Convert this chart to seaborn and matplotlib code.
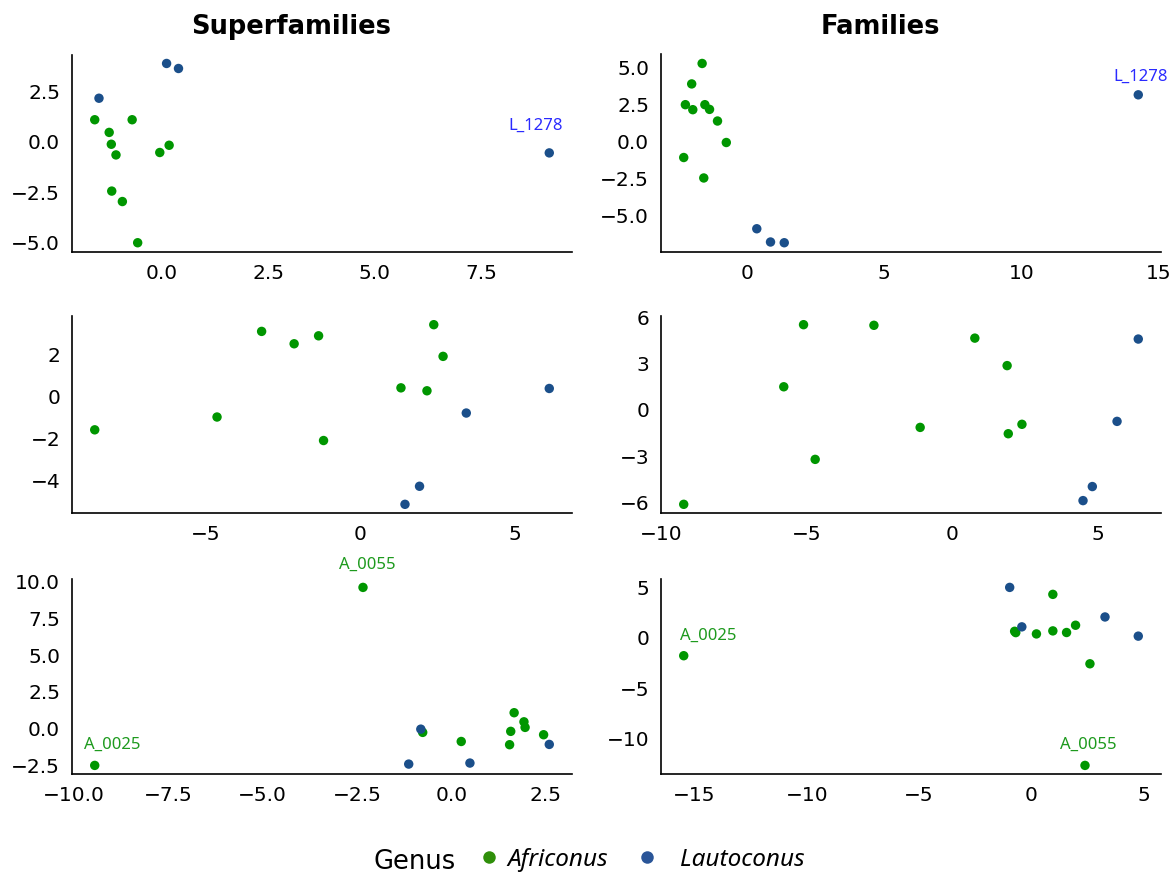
import matplotlib
matplotlib.use("Agg")
import matplotlib.pyplot as plt
import numpy as np
import pandas as pd
import seaborn as sns
from matplotlib.lines import Line2D
from matplotlib.font_manager import FontProperties

W, H, DPI = 1173, 874, 100

genus_names = ["Africonus", "Lautoconus"]
point_colors = {"Africonus": "#009600", "Lautoconus": "#1B4F8A"}
legend_colors = ["#2F8F0A", "#2A5598"]
column_titles = ["Superfamilies", "Families"]

# ---- Superfamilies, row 1 ----
sf1_afr_x = [-1.58, -0.70, -1.24, -1.19, -1.08, -0.05, 0.17, -1.18, -0.93, -0.57]
sf1_afr_y = [1.10, 1.10, 0.47, -0.12, -0.65, -0.53, -0.17, -2.45, -2.97, -5.02]
sf1_lau_x = [0.11, 0.39, -1.48, 9.11]
sf1_lau_y = [3.90, 3.65, 2.17, -0.55]
sf1_xticks = [0, 2.5, 5, 7.5]
sf1_xlabels = ["0.0", "2.5", "5.0", "7.5"]
sf1_yticks = [-5, -2.5, 0, 2.5]
sf1_ylabels = ["\u22125.0", "\u22122.5", "0.0", "2.5"]

# ---- Families, row 1 ----
f1_afr_x = [-1.63, -2.01, -2.24, -1.97, -1.53, -1.36, -1.07, -0.75, -2.30, -1.57]
f1_afr_y = [5.30, 3.91, 2.50, 2.16, 2.50, 2.18, 1.39, -0.07, -1.09, -2.48]
f1_lau_x = [0.36, 0.86, 1.36, 14.25]
f1_lau_y = [-5.93, -6.83, -6.88, 3.17]
f1_xticks = [0, 5, 10, 15]
f1_xlabels = ["0", "5", "10", "15"]
f1_yticks = [-5, -2.5, 0, 2.5, 5]
f1_ylabels = ["\u22125.0", "\u22122.5", "0.0", "2.5", "5.0"]

# ---- Superfamilies, row 2 ----
sf2_afr_x = [-8.58, -4.63, -3.19, -2.14, -1.35, -1.19, 1.31, 2.15, 2.37, 2.67]
sf2_afr_y = [-1.60, -0.99, 3.09, 2.50, 2.88, -2.11, 0.40, 0.26, 3.41, 1.90]
sf2_lau_x = [3.42, 6.10, 1.91, 1.44]
sf2_lau_y = [-0.80, 0.37, -4.29, -5.15]
sf2_xticks = [-5, 0, 5]
sf2_xlabels = ["\u22125", "0", "5"]
sf2_yticks = [-4, -2, 0, 2]
sf2_ylabels = ["\u22124", "\u22122", "0", "2"]

# ---- Families, row 2 ----
f2_afr_x = [-9.23, -5.79, -5.11, -4.71, -2.69, -1.10, 0.78, 1.89, 1.93, 2.40]
f2_afr_y = [-6.11, 1.50, 5.52, -3.20, 5.48, -1.13, 4.65, 2.87, -1.54, -0.93]
f2_lau_x = [6.40, 5.67, 4.82, 4.50]
f2_lau_y = [4.59, -0.74, -4.96, -5.87]
f2_xticks = [-10, -5, 0, 5]
f2_xlabels = ["\u221210", "\u22125", "0", "5"]
f2_yticks = [-6, -3, 0, 3, 6]
f2_ylabels = ["\u22126", "\u22123", "0", "3", "6"]

# ---- Superfamilies, row 3 ----
sf3_afr_x = [-9.44, -2.34, -0.76, 0.26, 1.66, 1.57, 1.54, 1.92, 1.95, 2.44]
sf3_afr_y = [-2.52, 9.61, -0.27, -0.89, 1.07, -0.20, -1.11, 0.45, 0.07, -0.43]
sf3_lau_x = [-0.81, -1.13, 0.49, 2.59]
sf3_lau_y = [-0.05, -2.43, -2.36, -1.09]
sf3_xticks = [-10, -7.5, -5, -2.5, 0, 2.5]
sf3_xlabels = ["\u221210.0", "\u22127.5", "\u22125.0", "\u22122.5", "0.0", "2.5"]
sf3_yticks = [-2.5, 0, 2.5, 5, 7.5, 10]
sf3_ylabels = ["\u22122.5", "0.0", "2.5", "5.0", "7.5", "10.0"]

# ---- Families, row 3 ----
f3_afr_x = [-15.47, 2.38, 0.95, -0.75, -0.70, 0.22, 0.95, 1.56, 1.96, 2.60]
f3_afr_y = [-1.77, -12.64, 4.31, 0.65, 0.52, 0.39, 0.69, 0.53, 1.25, -2.57]
f3_lau_x = [-0.97, -0.43, 3.27, 4.75]
f3_lau_y = [5.00, 1.09, 2.07, 0.17]
f3_xticks = [-15, -10, -5, 0, 5]
f3_xlabels = ["\u221215", "\u221210", "\u22125", "0", "5"]
f3_yticks = [-10, -5, 0, 5]
f3_ylabels = ["\u221210", "\u22125", "0", "5"]

# labelled samples: (genus, index within genus, text)
sf1_labels = [("Lautoconus", 3, "L_1278")]
f1_labels = [("Lautoconus", 3, "L_1278")]
sf3_labels = [("Africonus", 0, "A_0025"), ("Africonus", 1, "A_0055")]
f3_labels = [("Africonus", 0, "A_0025"), ("Africonus", 1, "A_0055")]

label_colors = {"Africonus": "#1E9A1E", "Lautoconus": "#2A2AFF"}
# label offsets in pixels (layout only)
label_offsets = {
    ("sf1", "L_1278"): (-14, 27),
    ("f1", "L_1278"): (2, 18),
    ("sf3", "A_0025"): (18, 21),
    ("sf3", "A_0055"): (4, 23),
    ("f3", "A_0025"): (25, 20),
    ("f3", "A_0055"): (3, 21),
}

panels = [
    ("sf1", sf1_afr_x, sf1_afr_y, sf1_lau_x, sf1_lau_y, sf1_xticks, sf1_xlabels, sf1_yticks, sf1_ylabels, sf1_labels),
    ("f1", f1_afr_x, f1_afr_y, f1_lau_x, f1_lau_y, f1_xticks, f1_xlabels, f1_yticks, f1_ylabels, f1_labels),
    ("sf2", sf2_afr_x, sf2_afr_y, sf2_lau_x, sf2_lau_y, sf2_xticks, sf2_xlabels, sf2_yticks, sf2_ylabels, []),
    ("f2", f2_afr_x, f2_afr_y, f2_lau_x, f2_lau_y, f2_xticks, f2_xlabels, f2_yticks, f2_ylabels, []),
    ("sf3", sf3_afr_x, sf3_afr_y, sf3_lau_x, sf3_lau_y, sf3_xticks, sf3_xlabels, sf3_yticks, sf3_ylabels, sf3_labels),
    ("f3", f3_afr_x, f3_afr_y, f3_lau_x, f3_lau_y, f3_xticks, f3_xlabels, f3_yticks, f3_ylabels, f3_labels),
]

sns.set_style("white")
plt.rcParams["font.family"] = ["DejaVu Sans"]
plt.rcParams["text.color"] = "black"

fig = plt.figure(figsize=(W / DPI, H / DPI), dpi=DPI)

col_x = [(72, 572), (661, 1161)]
row_y = [(54.5, 251.7), (315.7, 513.3), (578.5, 774.3)]

label_font = FontProperties(family="Noto Sans", size=12)

for i, (key, ax_, ay_, lx_, ly_, xt, xl, yt, yl, labs) in enumerate(panels):
    r, c = divmod(i, 2)
    x0, x1 = col_x[c]
    y0, y1 = row_y[r]
    ax = fig.add_axes([x0 / W, 1 - y1 / H, (x1 - x0) / W, (y1 - y0) / H])
    df = pd.DataFrame({
        "x": list(ax_) + list(lx_),
        "y": list(ay_) + list(ly_),
        "Genus": [genus_names[0]] * len(ax_) + [genus_names[1]] * len(lx_),
    })
    sns.scatterplot(data=df, x="x", y="y", hue="Genus", palette=point_colors,
                    s=46, linewidth=0, ax=ax, legend=False, zorder=3)
    xmin, xmax = df["x"].min(), df["x"].max()
    ymin, ymax = df["y"].min(), df["y"].max()
    ax.set_xlim(xmin - 0.05 * (xmax - xmin), xmax + 0.05 * (xmax - xmin))
    ax.set_ylim(ymin - 0.05 * (ymax - ymin), ymax + 0.05 * (ymax - ymin))
    ax.set_xticks(xt)
    ax.set_xticklabels(xl)
    ax.set_yticks(yt)
    ax.set_yticklabels(yl)
    ax.set_xlabel("")
    ax.set_ylabel("")
    for s in ["top", "right"]:
        ax.spines[s].set_visible(False)
    for s in ["left", "bottom"]:
        ax.spines[s].set_linewidth(1.2)
        ax.spines[s].set_color("black")
    ax.tick_params(axis="both", length=4.5, width=1.2, color="black",
                   labelsize=14.5, labelcolor="black", pad=4, direction="out")
    ax.patch.set_alpha(0)
    for genus, idx, text in labs:
        sub = df[df["Genus"] == genus].reset_index(drop=True)
        px, py = sub.loc[idx, "x"], sub.loc[idx, "y"]
        dx, dy = label_offsets[(key, text)]
        ax.annotate(text, xy=(px, py), xytext=(dx, dy), textcoords="offset pixels",
                    ha="center", va="center", color=label_colors[genus],
                    fontproperties=label_font, zorder=4)

# column titles
fig.text(291 / W, 1 - 34 / H, column_titles[0], ha="center", va="baseline",
         fontsize=18.5, fontweight="bold", color="black")
fig.text(880 / W, 1 - 34 / H, column_titles[1], ha="center", va="baseline",
         fontsize=18.5, fontweight="bold", color="black")

# legend
fig.text(373.5 / W, 1 - 869 / H, "Genus", ha="left", va="baseline",
         fontsize=18.5, color="black")
leg_font = FontProperties(family="Noto Sans", style="italic", size=17.5)
leg_anchor_x = [476.8, 634.8]
leg_pad = [0.25, 0.87]
for k in range(2):
    h = Line2D([], [], marker="o", ls="", color=legend_colors[k],
               markersize=9, markeredgewidth=0)
    leg = fig.legend([h], [genus_names[k]], loc="center left",
                     bbox_to_anchor=(leg_anchor_x[k] / W, 1 - 860 / H),
                     frameon=False, borderpad=0, borderaxespad=0,
                     handlelength=1.0, handletextpad=leg_pad[k], prop=leg_font)
    for t in leg.get_texts():
        t.set_color("black")

fig.savefig("out.png", dpi=DPI)
